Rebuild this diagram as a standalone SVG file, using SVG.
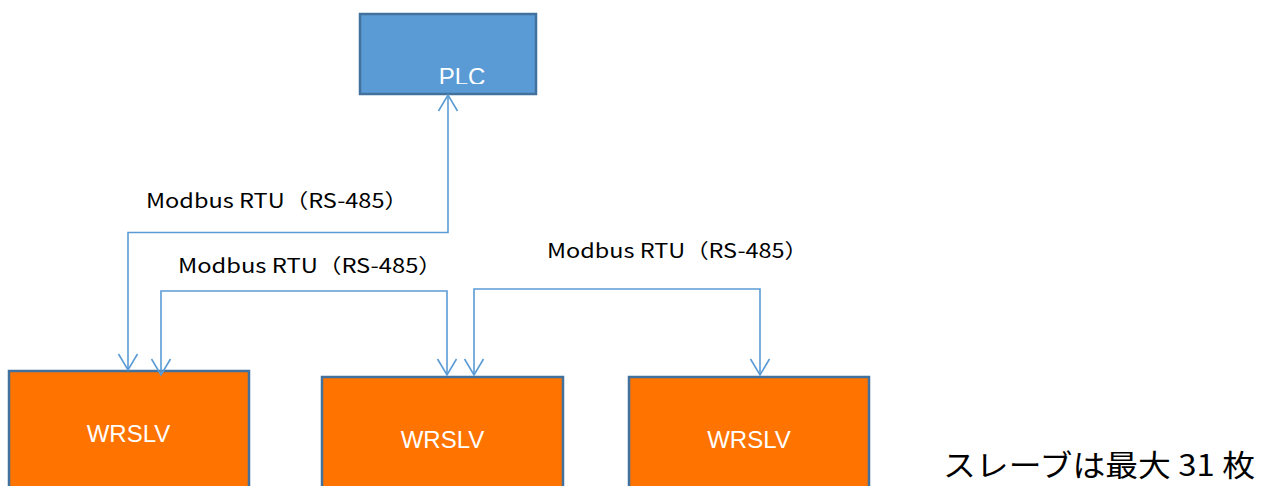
<svg xmlns="http://www.w3.org/2000/svg" width="1276" height="486" viewBox="0 0 1276 486">
<style>
.box-plc{fill:#5B9BD5;stroke:#41719C;stroke-width:2.5}
.box-sl{fill:#FF7400;stroke:#41719C;stroke-width:2.5}
.wt{fill:#FFFFFF;font-family:"Liberation Sans",Arial,sans-serif;font-size:24px;text-anchor:middle}
.lbl{fill:#000000;font-family:"Noto Sans CJK JP","Liberation Sans",sans-serif;font-size:20px}
.conn{fill:none;stroke:#5B9BD5;stroke-width:1.6}
</style>
<defs>
<marker id="arr" markerUnits="userSpaceOnUse" viewBox="-12 -12 24 24" markerWidth="24" markerHeight="24" refX="0" refY="0" orient="auto-start-reverse" overflow="visible">
<path d="M-16,-9.5 L0,0 L-16,9.5" fill="none" stroke="#5B9BD5" stroke-width="1.6"/>
</marker>
<clipPath id="plcclip"><rect x="359" y="13" width="177" height="71"/></clipPath>
</defs>
<rect width="1276" height="486" fill="#FFFFFF"/>
<g id="plc">
<rect class="box-plc" x="360" y="14" width="176" height="80"/>
<text class="wt" x="462" y="84.5" clip-path="url(#plcclip)">PLC</text>
</g>
<g id="wrslv1">
<rect class="box-sl" x="9" y="371" width="240" height="130"/>
<text class="wt" x="128.5" y="442">WRSLV</text>
</g>
<g id="wrslv2">
<rect class="box-sl" x="322" y="377" width="241" height="130"/>
<text class="wt" x="442.5" y="448">WRSLV</text>
</g>
<g id="wrslv3">
<rect class="box-sl" x="629" y="377" width="240" height="130"/>
<text class="wt" x="749" y="448">WRSLV</text>
</g>
<g id="connectors">
<path class="conn" d="M128,370 L128,232.5 L448,232.5 L448,95" marker-start="url(#arr)" marker-end="url(#arr)"/>
<path class="conn" d="M161,375 L161,291 L447,291 L447,375" marker-start="url(#arr)" marker-end="url(#arr)"/>
<path class="conn" d="M474,375 L474,289 L760,289 L760,375" marker-start="url(#arr)" marker-end="url(#arr)"/>
</g>
<g id="labels">
<text class="lbl" x="146" y="208" textLength="262" lengthAdjust="spacingAndGlyphs">Modbus RTU（RS-485）</text>
<text class="lbl" x="178" y="273" textLength="264" lengthAdjust="spacingAndGlyphs">Modbus RTU（RS-485）</text>
<text class="lbl" x="547" y="258" textLength="261" lengthAdjust="spacingAndGlyphs">Modbus RTU（RS-485）</text>
<text class="lbl" x="943" y="476" style="font-size:30px" textLength="312" lengthAdjust="spacingAndGlyphs">スレーブは最大 31 枚</text>
</g>
</svg>
